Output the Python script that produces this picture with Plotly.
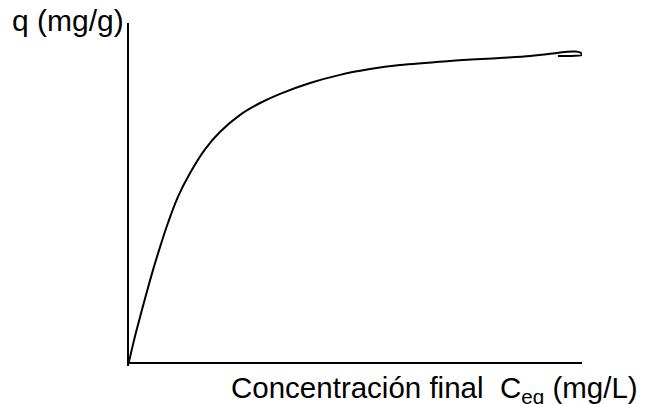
"""Isoterma de adsorción (esquema)."""

import plotly.graph_objects as go

# C_eq (mg/L) and q (mg/g) (arbitrary units, 0-100)
c_eq = [0.2, 1.5, 2.9, 4.2, 5.5, 7.05, 8.8, 11.0, 13.7, 17.0, 20.3, 24.7,
        29.1, 33.5, 40.1, 46.7, 53.3, 59.9, 70.9, 81.9, 88.6, 93.0, 96.3,
        98.5, 99.6, 100.0, 97.8, 94.7]
q = [0.0, 7.4, 14.5, 20.9, 27.1, 33.9, 41.0, 48.7, 55.8, 62.8, 67.9, 72.9,
     76.4, 79.1, 82.3, 84.7, 86.4, 87.6, 88.8, 89.7, 90.3, 90.9, 91.45,
     91.6, 91.3, 90.6, 90.3, 90.3]

x_title = "Concentración final  C<sub>eq</sub> (mg/L)"
y_title = "q (mg/g)"

FONT = "Liberation Sans, Arial, sans-serif"

fig = go.Figure(
    go.Scatter(
        x=c_eq,
        y=q,
        mode="lines",
        line={"color": "black", "width": 2, "shape": "spline", "smoothing": 1.0},
        hoverinfo="skip",
        cliponaxis=False,
    )
)

fig.update_xaxes(range=[0, 100], showline=True, linecolor="black", linewidth=2,
                 showgrid=False, zeroline=False, showticklabels=False, ticks="")
fig.update_yaxes(range=[0, 100], showline=False, showgrid=False, zeroline=False,
                 showticklabels=False, ticks="")

# the page body adds an 8 px margin, so the margins are 8 px smaller
fig.update_layout(
    width=645,
    height=404,
    margin={"l": 120, "r": 71, "t": 15, "b": 50},
    plot_bgcolor="white",
    paper_bgcolor="white",
    showlegend=False,
    font={"family": FONT, "color": "black", "size": 29.5},
    shapes=[
        # y axis, running slightly past the x axis
        {"type": "line", "xref": "paper", "yref": "paper", "x0": 0, "x1": 0,
         "y0": -0.012, "y1": 1, "line": {"color": "black", "width": 2}},
    ],
    annotations=[
        {"text": y_title, "xref": "paper", "yref": "paper", "x": -0.005, "y": 1.006,
         "xanchor": "right", "yanchor": "middle", "showarrow": False,
         "font": {"size": 30}},
        {"text": x_title, "xref": "paper", "yref": "paper", "x": 1.128, "y": -0.080,
         "xanchor": "right", "yanchor": "middle", "showarrow": False},
    ],
)

fig.write_html("out.html")
